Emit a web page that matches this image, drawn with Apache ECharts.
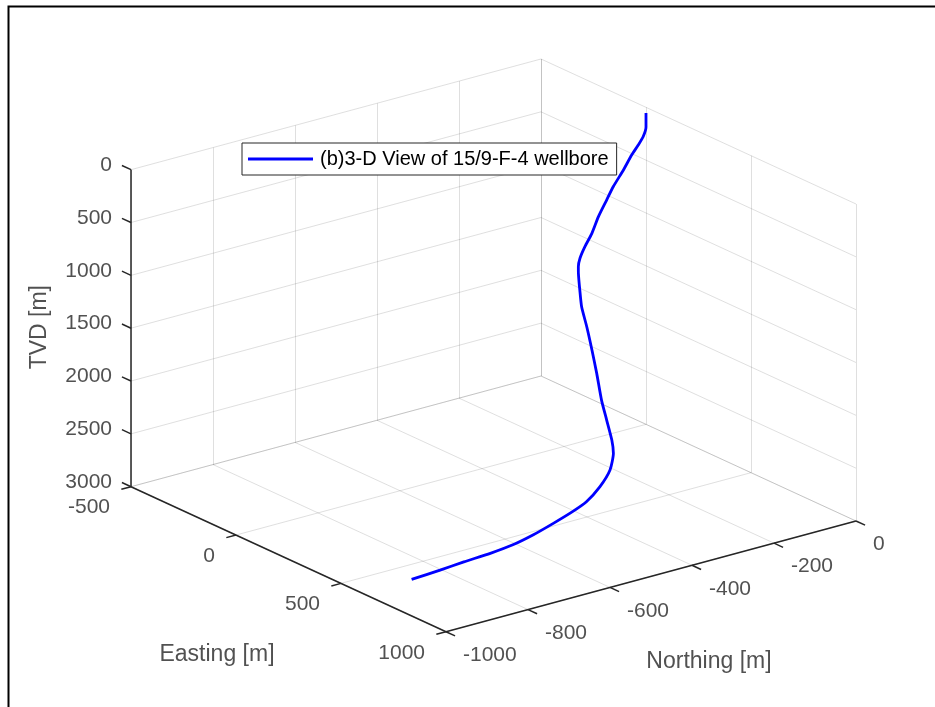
<!DOCTYPE html>
<html>
<head>
<meta charset="utf-8">
<script src="https://cdn.jsdelivr.net/npm/echarts@6/dist/echarts.min.js"></script>
<style>
html, body { margin: 0; padding: 0; background: #fff; }
#chart { width: 935px; height: 707px; }
</style>
</head>
<body>
<div id="chart"></div>
<script>
// wellbore survey points
var eastM = [0, 0, 0, 0, 0, 0, 0, 0, 0, 0, 0, 0, 0,
    12, 46, 80, 126, 178, 230, 288, 334, 380, 407,
    469, 515, 548, 558, 572, 588, 596, 596, 593, 595, 598];
var northM = [0, 0, -7, -19, -35, -55, -80, -96, -116, -132, -149, -161, -165,
    -171, -185, -198, -209, -223, -238, -256, -267, -278, -288,
    -328, -376, -426, -466, -519, -577, -630, -685, -748, -807, -878];
var tvdM = [54, 186, 271, 337, 415, 535, 668, 777, 913, 1054, 1163, 1260, 1336,
    1381, 1494, 1607, 1742, 1900, 2058, 2239, 2374, 2510, 2600,
    2660, 2725, 2785, 2830, 2870, 2905, 2935, 2958, 2976, 2990, 3000];

var eastTicks = [-500, 0, 500, 1000];
var northTicks = [-1000, -800, -600, -400, -200, 0];
var tvdTicks = [0, 500, 1000, 1500, 2000, 2500, 3000];
var seriesName = '(b)3-D View of 15/9-F-4 wellbore';

// axis box limits
var eMin = -500, eMax = 1000, nMin = -1000, nMax = 0, tMin = 0, tMax = 3000;

// view: screen spot of corner (eMin, nMin, tMax), px per metre along each axis
var corner = [131, 486.7];
var eastStep = [0.21, 0.09667];
var northStep = [0.41, -0.1107];
var tvdStep = [0, 0.10567];

function proj(e, n, t) {
    return [
        corner[0] + (e - eMin) * eastStep[0] + (n - nMin) * northStep[0] + (t - tMax) * tvdStep[0],
        corner[1] + (e - eMin) * eastStep[1] + (n - nMin) * northStep[1] + (t - tMax) * tvdStep[1]
    ];
}
function unit(v, s) {
    var l = Math.sqrt(v[0] * v[0] + v[1] * v[1]);
    return [v[0] / l * s, v[1] / l * s];
}
function add(p, d) { return [p[0] + d[0], p[1] + d[1]]; }

// grid on the three back planes
var gridSegs = [];
function seg(list, a, b) { list.push({ coords: [a, b] }); }
eastTicks.forEach(function (e) {
    seg(gridSegs, proj(e, nMin, tMax), proj(e, nMax, tMax));
    seg(gridSegs, proj(e, nMax, tMin), proj(e, nMax, tMax));
});
northTicks.forEach(function (n) {
    seg(gridSegs, proj(eMin, n, tMax), proj(eMax, n, tMax));
    seg(gridSegs, proj(eMin, n, tMin), proj(eMin, n, tMax));
});
tvdTicks.forEach(function (t) {
    seg(gridSegs, proj(eMin, nMin, t), proj(eMin, nMax, t));
    seg(gridSegs, proj(eMin, nMax, t), proj(eMax, nMax, t));
});

// axis lines and tick marks
var axisSegs = [];
seg(axisSegs, proj(eMin, nMin, tMin), proj(eMin, nMin, tMax));
seg(axisSegs, proj(eMin, nMin, tMax), proj(eMax, nMin, tMax));
seg(axisSegs, proj(eMax, nMin, tMax), proj(eMax, nMax, tMax));
var tvdTickDir = unit([-eastStep[0], -eastStep[1]], 10);
var eastTickDir = unit([-northStep[0], -northStep[1]], 10);
var northTickDir = unit(eastStep, 10);
var tvdLabels = [], eastLabels = [], northLabels = [];
tvdTicks.forEach(function (t) {
    var p = proj(eMin, nMin, t);
    seg(axisSegs, p, add(p, tvdTickDir));
    tvdLabels.push({ name: String(t), value: add(p, [-19, -4.5]) });
});
eastTicks.forEach(function (e) {
    var p = proj(e, nMin, tMax);
    seg(axisSegs, p, add(p, eastTickDir));
    eastLabels.push({ name: String(e), value: add(p, [-21, 21]) });
});
northTicks.forEach(function (n) {
    var p = proj(eMax, n, tMax);
    seg(axisSegs, p, add(p, northTickDir));
    northLabels.push({ name: String(n), value: add(p, [17, 23.5]) });
});

var font = "'Liberation Sans', Arial, Helvetica, sans-serif";
var textColor = '#262626';

function labelSeries(data, align) {
    return {
        type: 'scatter', silent: true, symbolSize: 0, data: data,
        label: {
            show: true, position: [0, 0], formatter: '{b}', align: align, verticalAlign: 'middle',
            fontSize: 21, fontFamily: font, color: textColor
        }
    };
}

var titles = [
    { name: 'TVD [m]', value: add(proj(eMin, nMin, 1500), [-91, -1]),
      label: { rotate: 90 } },
    { name: 'Easting [m]', value: add(proj(250, nMin, tMax), [-71.5, 95]) },
    { name: 'Northing [m]', value: add(proj(eMax, -500, tMax), [58, 85]) }
];

var chart = echarts.init(document.getElementById('chart'));
chart.setOption({
    animation: false,
    backgroundColor: '#fff',
    grid: { left: 0, right: 0, top: 0, bottom: 0 },
    xAxis: { type: 'value', min: 0, max: 935, show: false },
    yAxis: { type: 'value', min: 0, max: 707, inverse: true, show: false },
    legend: {
        data: [seriesName], left: 242, top: 143, selectedMode: false,
        backgroundColor: '#fff', borderColor: '#262626', borderWidth: 1,
        padding: [6, 8, 6, 6], itemWidth: 65, itemHeight: 3, icon: 'rect',
        textStyle: { fontSize: 20, fontFamily: font, color: '#000', padding: [0, 0, 0, 2] }
    },
    graphic: [{
        type: 'polyline', silent: true,
        shape: { points: [[8.5, 707], [8.5, 6.5], [935, 6.5]] },
        style: { stroke: '#000', lineWidth: 2, fill: null }
    }],
    series: [
        {
            type: 'lines', coordinateSystem: 'cartesian2d', silent: true, z: 1,
            data: gridSegs, lineStyle: { color: 'rgba(38,38,38,0.15)', width: 1, opacity: 1 }
        },
        {
            type: 'lines', coordinateSystem: 'cartesian2d', silent: true, z: 3,
            data: axisSegs, lineStyle: { color: textColor, width: 1.5, opacity: 1 }
        },
        {
            name: seriesName, type: 'line', z: 4,
            data: eastM.map(function (e, i) { return proj(e, northM[i], tvdM[i]); }),
            symbol: 'none', showSymbol: false, smooth: 0.2,
            lineStyle: { color: '#0000ff', width: 2.8 },
            itemStyle: { color: '#0000ff' }
        },
        labelSeries(tvdLabels, 'right'),
        labelSeries(eastLabels, 'right'),
        labelSeries(northLabels, 'left'),
        {
            type: 'scatter', silent: true, symbolSize: 0, data: titles,
            label: {
                show: true, position: [0, 0], formatter: '{b}', align: 'center', verticalAlign: 'middle',
                fontSize: 23, fontFamily: font, color: textColor
            }
        }
    ]
});
</script>
</body>
</html>
